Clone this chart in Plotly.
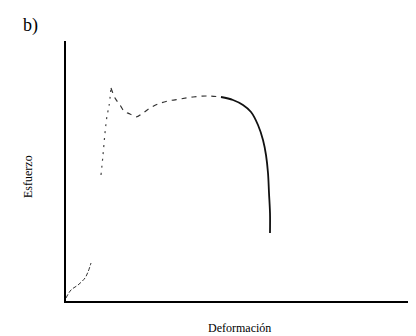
import plotly.graph_objects as go

# Stress-strain curve (arbitrary units)
strain_toe = [0, 5, 12, 19, 22, 25]
stress_toe = [3, 11, 16, 23, 29, 38]

strain_elastic = [35, 37, 39, 41, 43, 45]
stress_elastic = [126, 146, 168, 185, 195, 213]

strain_plastic = [45, 49, 54, 58, 64, 70, 77, 84, 92, 102, 114, 127, 142, 155]
stress_plastic = [213, 203, 196, 190, 187, 184, 188, 193, 197, 200, 202, 204, 205, 204]

strain_necking = [155, 167, 177, 185, 192, 197, 200, 202, 203, 204, 204]
stress_necking = [204, 201, 196, 189, 176, 161, 146, 128, 108, 88, 68]

fig = go.Figure()
fig.add_trace(go.Scatter(x=strain_toe, y=stress_toe, mode="lines",
                         line=dict(color="#333", width=1, dash="4px,2px", shape="spline")))
fig.add_trace(go.Scatter(x=strain_elastic, y=stress_elastic, mode="lines",
                         line=dict(color="#444", width=1.2, dash="2px,5px", shape="spline")))
fig.add_trace(go.Scatter(x=strain_plastic, y=stress_plastic, mode="lines",
                         line=dict(color="#333", width=1.2, dash="5px,5px", shape="spline")))
fig.add_trace(go.Scatter(x=strain_necking, y=stress_necking, mode="lines",
                         line=dict(color="#111", width=1.8, shape="spline")))

serif = "Liberation Serif"
fig.update_layout(
    width=416, height=336,
    margin=dict(l=58, r=3, t=33, b=43),
    paper_bgcolor="white", plot_bgcolor="white",
    showlegend=False,
    xaxis=dict(range=[0, 355], showline=True, linecolor="black", linewidth=2,
               showgrid=False, zeroline=False, showticklabels=False, ticks=""),
    yaxis=dict(range=[0, 260], showline=True, linecolor="black", linewidth=2,
               showgrid=False, zeroline=False, showticklabels=False, ticks=""),
    annotations=[
        dict(text="b)", xref="paper", yref="paper", x=-0.0986, y=1.0615,
             xanchor="center", yanchor="middle",
             showarrow=False, font=dict(family=serif, size=18, color="black")),
        dict(text="Esfuerzo", xref="paper", yref="paper", x=-0.107, y=0.477,
             xanchor="center", yanchor="middle",
             textangle=-90, showarrow=False, font=dict(family=serif, size=12, color="black")),
        dict(text="Deformación", xref="paper", yref="paper", x=0.49, y=-0.105,
             xanchor="center", yanchor="middle",
             showarrow=False, font=dict(family=serif, size=12, color="black")),
    ],
)
fig.write_html("out.html")
